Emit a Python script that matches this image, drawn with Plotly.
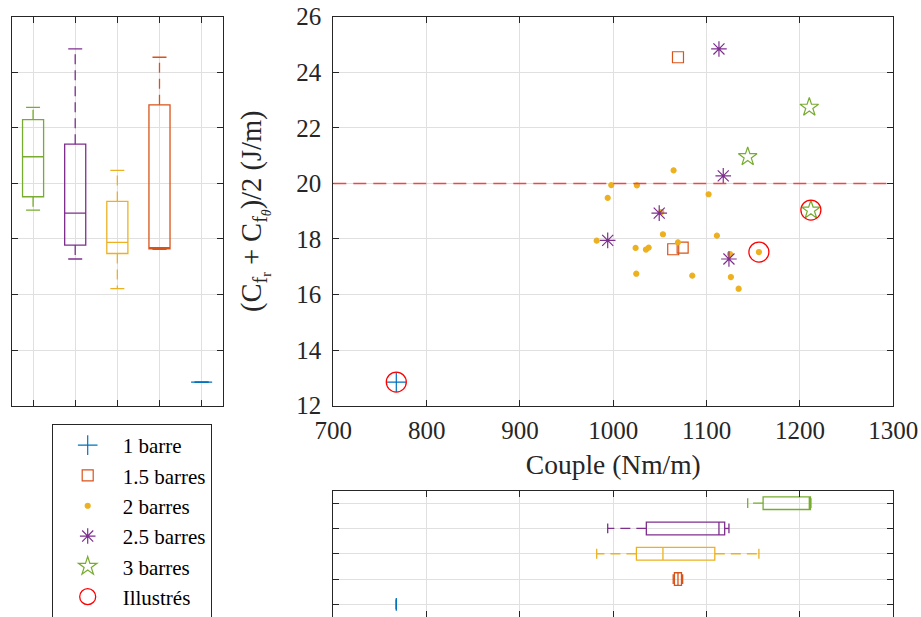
import plotly.graph_objects as go

W, H = 921, 617

# ---------------- data ----------------
categories = ["1 barre", "1.5 barres", "2 barres", "2.5 barres", "3 barres"]
colors = ["#0072BD", "#D95319", "#EDB120", "#7E2F8E", "#77AC30"]
symbols = ["cross-thin-open", "square-open", "circle", "asterisk-open", "star-open"]
marker_sizes = [14, 11, 5, 13, 14]

couple_1 = [767.5]
energy_1 = [12.85]

couple_15 = [1069.3, 1064.2, 1074.3]
energy_15 = [24.54, 17.63, 17.69]

couple_2 = [1064.6, 997.8, 1025.3, 994.0, 1102.1, 1051.4, 1053.2, 1111.0, 982.2, 1069.3,
            1023.9, 1037.9, 1035.0, 1125.0, 1156.0, 1024.6, 1084.6, 1126.0, 1134.3]
energy_2 = [20.47, 19.94, 19.93, 19.48, 19.61, 18.97, 18.17, 18.12, 17.94, 17.88,
            17.68, 17.69, 17.62, 17.46, 17.53, 16.75, 16.68, 16.63, 16.21]

couple_25 = [1113.2, 1117.8, 1049.2, 994.0, 1123.9]
energy_25 = [24.84, 20.27, 18.93, 17.95, 17.28]

couple_3 = [1210.0, 1144.0, 1211.7]
energy_3 = [22.74, 20.96, 19.04]

illustrated_couple = [767.5, 1156.0, 1211.7]
illustrated_energy = [12.85, 17.53, 19.04]

reference_level = 20
x_ticks = [700, 800, 900, 1000, 1100, 1200, 1300]
y_ticks = [12, 14, 16, 18, 20, 22, 24, 26]

couples = [couple_1, couple_15, couple_2, couple_25, couple_3]
energies = [energy_1, energy_15, energy_2, energy_25, energy_3]

# box positions: 1 = 3 barres ... 5 = 1 barre
box_order = [4, 3, 2, 1, 0]

FONT = "Liberation Serif"
AX = "rgb(38,38,38)"
GRID = "rgb(224,224,224)"


def px_x(p):
    return p / W


def px_y(p):
    return max(0.0, 1 - p / H)


def quantile(vals, p):
    s = sorted(vals)
    n = len(s)
    pos = n * p + 0.5
    if pos <= 1:
        return s[0]
    if pos >= n:
        return s[-1]
    i = int(pos)
    f = pos - i
    return s[i - 1] + f * (s[i] - s[i - 1])


def stats(vals):
    q1 = quantile(vals, 0.25)
    med = quantile(vals, 0.5)
    q3 = quantile(vals, 0.75)
    iqr = q3 - q1
    inside = [v for v in vals if q1 - 1.5 * iqr <= v <= q3 + 1.5 * iqr]
    return q1, med, q3, min(inside), max(inside)


fig = go.Figure()

# ---------------- box plots ----------------
for pos, gi in enumerate(box_order, start=1):
    col = colors[gi]
    # left (vertical) box of energies
    q1, med, q3, lo, hi = stats(energies[gi])
    fig.add_trace(go.Box(x=[pos], q1=[q1], median=[med], q3=[q3],
                         lowerfence=[q1], upperfence=[q3], width=0.5, whiskerwidth=0,
                         line=dict(color=col, width=1.3), fillcolor="rgba(0,0,0,0)",
                         boxpoints=False, showlegend=False, hoverinfo="skip",
                         xaxis="x2", yaxis="y2"))
    fig.add_trace(go.Scatter(x=[pos, pos, None, pos, pos], y=[q3, hi, None, q1, lo],
                             mode="lines", line=dict(color=col, width=1.3, dash="10px,6px"),
                             showlegend=False, hoverinfo="skip", xaxis="x2", yaxis="y2"))
    fig.add_trace(go.Scatter(x=[pos, pos], y=[hi, lo], mode="markers",
                             marker=dict(symbol="line-ew", size=10,
                                         line=dict(color=col, width=1.3)),
                             showlegend=False, hoverinfo="skip", xaxis="x2", yaxis="y2"))
    # bottom (horizontal) box of couples
    q1, med, q3, lo, hi = stats(couples[gi])
    fig.add_trace(go.Box(y=[pos], q1=[q1], median=[med], q3=[q3], orientation="h",
                         lowerfence=[q1], upperfence=[q3], width=0.5, whiskerwidth=0,
                         line=dict(color=col, width=1.3), fillcolor="rgba(0,0,0,0)",
                         boxpoints=False, showlegend=False, hoverinfo="skip",
                         xaxis="x3", yaxis="y3"))
    fig.add_trace(go.Scatter(y=[pos, pos, None, pos, pos], x=[q3, hi, None, q1, lo],
                             mode="lines", line=dict(color=col, width=1.3, dash="10px,6px"),
                             showlegend=False, hoverinfo="skip", xaxis="x3", yaxis="y3"))
    fig.add_trace(go.Scatter(y=[pos, pos], x=[hi, lo], mode="markers",
                             marker=dict(symbol="line-ns", size=7,
                                         line=dict(color=col, width=1.3)),
                             showlegend=False, hoverinfo="skip", xaxis="x3", yaxis="y3"))

# ---------------- main scatter ----------------
for i, name in enumerate(categories):
    mk = dict(symbol=symbols[i], size=marker_sizes[i], color=colors[i],
              line=dict(color=colors[i], width=1.2))
    fig.add_trace(go.Scatter(x=couples[i], y=energies[i], mode="markers", name=name,
                             marker=mk, xaxis="x", yaxis="y"))

fig.add_trace(go.Scatter(x=illustrated_couple, y=illustrated_energy, mode="markers",
                         name="Illustrés",
                         marker=dict(symbol="circle-open", size=20, color="#FF0000",
                                     line=dict(color="#FF0000", width=1.3)),
                         xaxis="x", yaxis="y"))

fig.add_shape(type="line", xref="x domain", yref="y", x0=0, x1=1,
              y0=reference_level, y1=reference_level,
              line=dict(color="rgb(240,70,70)", width=1.5, dash="13px,7px"))

# ---------------- layout ----------------
common = dict(showline=True, linecolor=AX, linewidth=1, mirror="ticks", ticks="inside",
              ticklen=6, tickcolor=AX, showgrid=True, gridcolor=GRID, gridwidth=1,
              zeroline=False, automargin=False)

main_x = [px_x(333.3), px_x(893.3)]
main_y = [px_y(405.7), px_y(16.7)]

fig.update_layout(
    width=W, height=H,
    margin=dict(l=0, r=0, t=0, b=0, autoexpand=False),
    paper_bgcolor="white", plot_bgcolor="white",
    font=dict(family=FONT, color=AX, size=25),
    xaxis=dict(domain=main_x, range=[700, 1300], tickvals=x_ticks,
               tickfont=dict(size=25, family=FONT, color=AX), ticklabelstandoff=2,
               ticklabeloverflow="allow",
               title=dict(text="Couple (Nm/m)", font=dict(size=27.5, family=FONT, color=AX),
                          standoff=12),
               anchor="y", **common),
    yaxis=dict(domain=main_y, range=[12, 26], tickvals=y_ticks,
               tickfont=dict(size=25, family=FONT, color=AX), ticklabelstandoff=6,
               ticklabeloverflow="allow",
               title=dict(text="(C<sub>f<sub>r</sub></sub> + C<sub>f<sub><i>θ</i></sub></sub>)/2 (J/m)",
                          font=dict(size=28.5, family=FONT, color=AX), standoff=26),
               anchor="x", **common),
    xaxis2=dict(domain=[px_x(12), px_x(222.7)], range=[0.5, 5.5], tickvals=[1, 2, 3, 4, 5],
                showticklabels=False, anchor="y2", **common),
    yaxis2=dict(domain=main_y, range=[12, 26], tickvals=y_ticks, showticklabels=False,
                anchor="x2", **common),
    xaxis3=dict(domain=main_x, range=[700, 1300], tickvals=x_ticks, showticklabels=False,
                anchor="y3", **common),
    yaxis3=dict(domain=[0, px_y(490.5)], range=[5.5, 0.5], tickvals=[1, 2, 3, 4, 5],
                showticklabels=False, anchor="x3", **common),
    legend=dict(x=px_x(51.7), y=px_y(424), xanchor="left", yanchor="top",
                bordercolor=AX, borderwidth=1, bgcolor="white",
                font=dict(family=FONT, size=21, color="black"),
                itemsizing="trace", itemwidth=60, tracegroupgap=0),
    showlegend=True,
)

fig.write_html("out.html", config={"displayModeBar": False},
               post_script="document.body.style.margin='0px';document.body.style.overflow='hidden';")
